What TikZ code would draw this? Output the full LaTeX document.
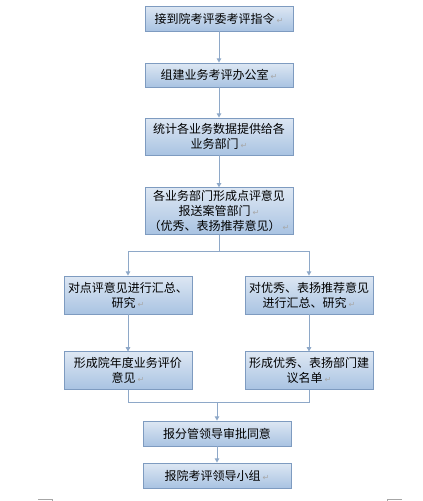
\documentclass[tikz,border=0pt]{standalone}
\usepackage{fontspec}
\setmainfont{Noto Sans CJK SC}
\newfontfamily\symfont{DejaVu Sans}
\usepackage{tikz}
\usepackage{xcolor}
\usetikzlibrary{arrows.meta,positioning,calc}
\definecolor{boxtop}   {HTML}{DDE7F3}
\definecolor{boxbot}   {HTML}{A9C3E2}
\definecolor{boxline}  {HTML}{7E9BC0}
\definecolor{linkline} {HTML}{8EA8C8}
\definecolor{retgray}  {HTML}{A8A8A8}
\newcommand{\retmk}{\,{\symfont\color{retgray}\fontsize{6}{6}\selectfont ↵}}
\tikzset{
  stepbox/.style ={draw=boxline, top color=boxtop, bottom color=boxbot,
                   line width=0.6pt, align=center, inner sep=2pt,
                   font=\fontsize{9}{11.2}\selectfont},
  widebox/.style ={stepbox, minimum width=111pt},
  halfbox/.style ={stepbox, minimum width=96pt},
  link/.style    ={draw=linkline, line width=0.7pt},
  linkarr/.style ={link, -{Triangle[length=3.2pt,width=3.4pt]}},
  cornermk/.style={draw=gray!70, line width=0.5pt},
}
\begin{document}
\begin{tikzpicture}[x=0.75pt,y=-0.75pt]
  \useasboundingbox (0,0) rectangle (423,501);
  % main column
  \node[widebox,minimum height=18.75pt] (order) at (219,18.5) {接到院考评委考评指令\retmk};
  \node[widebox,minimum height=18pt] (office) at (219,75) {组建业务考评办公室\retmk};
  \node[widebox,minimum height=27.75pt] (stats) at (219,136.5)
    {统计各业务数据提供给各\\业务部门\retmk};
  \node[widebox,minimum height=34.5pt] (dept) at (219,211)
    {各业务部门形成点评意见\\报送案管部门\retmk\\（优秀、表扬推荐意见）\retmk};
  % two branches
  \node[halfbox,minimum height=28.5pt] (sumL) at (128,295)
    {对点评意见进行汇总、\\研究\retmk};
  \node[halfbox,minimum height=28.5pt] (sumR) at (309,295)
    {对优秀、表扬推荐意见\\进行汇总、研究\retmk};
  \node[halfbox,minimum height=28pt] (yearL) at (128,370.5)
    {形成院年度业务评价\\意见\retmk};
  \node[halfbox,minimum height=28pt] (listR) at (309,370.5)
    {形成优秀、表扬部门建\\议名单\retmk};
  % bottom
  \node[widebox,minimum height=18.75pt] (lead) at (217,433.5) {报分管领导审批同意};
  \node[widebox,minimum height=18.75pt] (group) at (217,475.5) {报院考评领导小组\retmk};
  \coordinate (fork) at (219,251);
  \coordinate (join) at (217,402);
  \draw[linkarr] (order) -- (office);
  \draw[linkarr] (office) -- (stats);
  \draw[linkarr] (stats) -- (dept);
  \draw[link] (dept.south) -- (fork);
  \draw[linkarr] (fork) -| (sumL.north);
  \draw[linkarr] (fork) -| (sumR.north);
  \draw[linkarr] (sumL) -- (yearL);
  \draw[linkarr] (sumR) -- (listR);
  \draw[link] (yearL.south) |- (join);
  \draw[link] (listR.south) |- (join);
  \draw[linkarr] (join) -- (lead.north);
  \draw[linkarr] (lead) -- (group);
  % page corner marks
  \draw[cornermk] (38,499) -- (52,499) -- (52,501);
  \draw[cornermk] (402,499) -- (387,499) -- (387,501);
\end{tikzpicture}
\end{document}
